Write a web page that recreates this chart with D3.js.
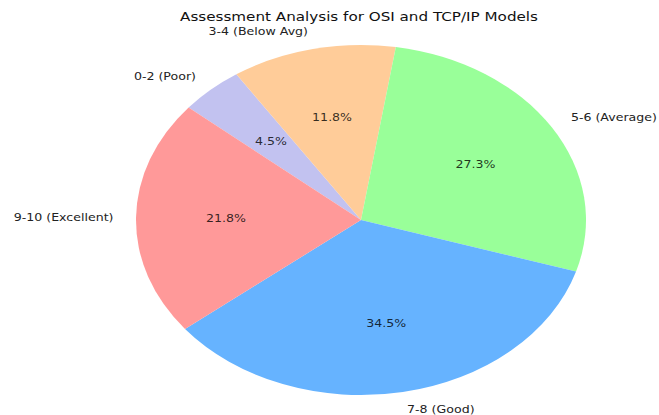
<!DOCTYPE html>
<html>
<head>
<meta charset="utf-8">
<script src="https://cdn.jsdelivr.net/npm/d3@7"></script>
<style>
  body { margin: 0; background: #fff; }
  text { font-family: "DejaVu Sans", sans-serif; }
</style>
</head>
<body>
<div id="chart"></div>
<script>
const categories = ['0-2 (Poor)', '3-4 (Below Avg)', '5-6 (Average)', '7-8 (Good)', '9-10 (Excellent)'];
const counts = [5, 13, 30, 38, 24];
const colors = ['#c2c2f0', '#ffcc99', '#99ff99', '#66b3ff', '#ff9999'];
const title = 'Assessment Analysis for OSI and TCP/IP Models';

const width = 659, height = 415;
const cx = 361, cy = 220;
const rx = 225, ry = 175;
const stretch = rx / ry; // picture is stretched sideways
const r = ry;

const svg = d3.select('#chart')
  .append('svg')
  .attr('width', width)
  .attr('height', height);

const start = -50 * Math.PI / 180;
const pie = d3.pie()
  .sort(null)
  .startAngle(start)
  .endAngle(start + 2 * Math.PI);

const arcs = pie(counts);
const total = d3.sum(counts);

const arc = d3.arc().innerRadius(0).outerRadius(r);

// pie group squeezed into an ellipse
const g = svg.append('g')
  .attr('transform', `translate(${cx},${cy}) scale(${stretch},1)`);

g.selectAll('path.slice')
  .data(arcs)
  .enter()
  .append('path')
  .attr('class', 'slice')
  .attr('d', arc)
  .attr('fill', (d, i) => colors[i]);

const labels = svg.append('g').attr('transform', `translate(${cx},${cy})`);

function pos(d, k) {
  const a = (d.startAngle + d.endAngle) / 2;
  return [Math.sin(a) * r * k * stretch, -Math.cos(a) * r * k];
}

// category labels outside
labels.selectAll('text.cat')
  .data(arcs)
  .enter()
  .append('text')
  .attr('class', 'cat')
  .attr('transform', d => {
    const p = pos(d, 1.1);
    return `translate(${p[0]},${p[1]}) scale(${stretch},1)`;
  })
  .attr('text-anchor', d => pos(d, 1.1)[0] > 0 ? 'start' : 'end')
  .attr('dy', '0.35em')
  .style('font-size', '9.8px')
  .style('fill', '#222')
  .text((d, i) => categories[i]);

// percentages inside
labels.selectAll('text.pct')
  .data(arcs)
  .enter()
  .append('text')
  .attr('class', 'pct')
  .attr('transform', d => {
    const p = pos(d, 0.6);
    return `translate(${p[0]},${p[1]}) scale(${stretch},1)`;
  })
  .attr('text-anchor', 'middle')
  .attr('dy', '0.35em')
  .style('font-size', '9.8px')
  .style('fill', '#000')
  .style('fill-opacity', 0.8)
  .text(d => (d.value / total * 100).toFixed(1) + '%');

svg.append('text')
  .attr('transform', `translate(${cx - 2},17) scale(${stretch},1)`)
  .attr('text-anchor', 'middle')
  .attr('dy', '0.35em')
  .style('font-size', '11.8px')
  .style('fill', '#111')
  .text(title);
</script>
</body>
</html>
